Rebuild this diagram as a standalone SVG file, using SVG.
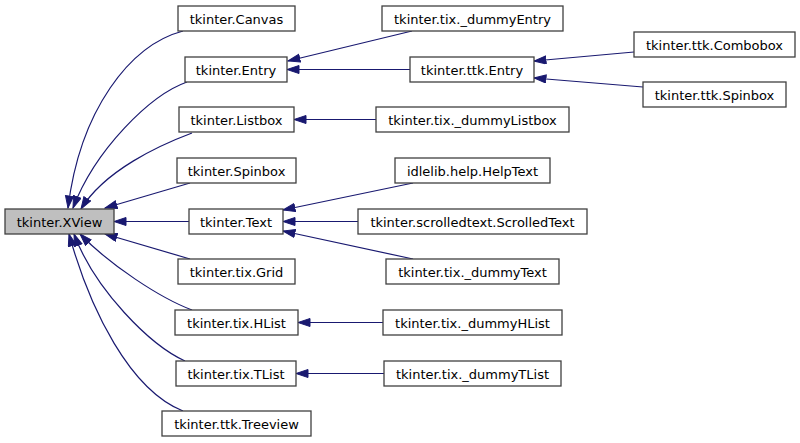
<svg xmlns="http://www.w3.org/2000/svg" width="800" height="443" viewBox="0 0 800 443">
<style>
.n rect{fill:#ffffff;stroke:#404040;stroke-width:1.3}
.n text{font-family:"DejaVu Sans",sans-serif;font-size:13px;fill:#000;text-anchor:middle}
#n_xview rect{fill:#bfbfbf}
.e path{fill:none;stroke:#191970;stroke-width:1.2;marker-end:url(#ah)}
</style>
<defs>
<marker id="ah" markerUnits="userSpaceOnUse" markerWidth="14" markerHeight="10" refX="12.5" refY="4.5" orient="auto">
<path d="M0.5,0.5 L12.5,4.5 L0.5,8.5 z" fill="#191970" stroke="#191970" stroke-width="1"/>
</marker>
</defs>
<rect width="800" height="443" fill="#ffffff"/>
<g class="e" id="edges">
<path d="M183,31 C130,45 80,110 68,208"/>
<path d="M187,82 C150,95 95,150 73,208"/>
<path d="M192,133 C160,145 105,170 81,209"/>
<path d="M190,183 L105,208"/>
<path d="M189,221.5 L114,221.5"/>
<path d="M190,259 L105,234"/>
<path d="M192,310 C160,298 110,265 80,234"/>
<path d="M185,361 C150,345 95,290 74,234"/>
<path d="M183,411 C130,390 90,310 69,234"/>
<path d="M412,31 L288,61"/>
<path d="M410,69.5 L287,69.5"/>
<path d="M634,52 L534,61"/>
<path d="M643,87 L534,78"/>
<path d="M376,119.5 L294,119.5"/>
<path d="M413,183 L283,210"/>
<path d="M358,221.5 L283,221.5"/>
<path d="M413,259 L283,231"/>
<path d="M383,322.5 L298,322.5"/>
<path d="M384,373.5 L296,373.5"/>
</g>
<g class="n" id="n_xview"><rect x="5" y="209" width="109" height="25"/><text x="59.5" y="227">tkinter.XView</text></g>
<g class="n" id="n_canvas"><rect x="178" y="6" width="117" height="25"/><text x="236.5" y="24">tkinter.Canvas</text></g>
<g class="n" id="n_entry"><rect x="185" y="57" width="102" height="25"/><text x="236" y="75">tkinter.Entry</text></g>
<g class="n" id="n_listbox"><rect x="179" y="107" width="115" height="25"/><text x="236.5" y="125">tkinter.Listbox</text></g>
<g class="n" id="n_spinbox"><rect x="177" y="158" width="119" height="25"/><text x="236.5" y="176">tkinter.Spinbox</text></g>
<g class="n" id="n_text"><rect x="189" y="209" width="94" height="25"/><text x="236" y="227">tkinter.Text</text></g>
<g class="n" id="n_grid"><rect x="178" y="259" width="117" height="25"/><text x="236.5" y="277">tkinter.tix.Grid</text></g>
<g class="n" id="n_hlist"><rect x="175" y="310" width="123" height="25"/><text x="236.5" y="328">tkinter.tix.HList</text></g>
<g class="n" id="n_tlist"><rect x="176" y="361" width="120" height="25"/><text x="236" y="379">tkinter.tix.TList</text></g>
<g class="n" id="n_treeview"><rect x="162" y="411" width="149" height="25"/><text x="236.5" y="429">tkinter.ttk.Treeview</text></g>
<g class="n" id="n_dummyentry"><rect x="382" y="6" width="181" height="25"/><text x="472.5" y="24">tkinter.tix._dummyEntry</text></g>
<g class="n" id="n_ttkentry"><rect x="410" y="57" width="124" height="25"/><text x="472" y="75">tkinter.ttk.Entry</text></g>
<g class="n" id="n_combobox"><rect x="634" y="32" width="161" height="25"/><text x="714.5" y="50">tkinter.ttk.Combobox</text></g>
<g class="n" id="n_ttkspinbox"><rect x="643" y="82" width="143" height="25"/><text x="714.5" y="100">tkinter.ttk.Spinbox</text></g>
<g class="n" id="n_dummylistbox"><rect x="376" y="107" width="193" height="25"/><text x="472.5" y="125">tkinter.tix._dummyListbox</text></g>
<g class="n" id="n_helptext"><rect x="395" y="158" width="155" height="25"/><text x="472.5" y="176">idlelib.help.HelpText</text></g>
<g class="n" id="n_scrolledtext"><rect x="358" y="209" width="229" height="25"/><text x="472.5" y="227">tkinter.scrolledtext.ScrolledText</text></g>
<g class="n" id="n_dummytext"><rect x="386" y="259" width="173" height="25"/><text x="472.5" y="277">tkinter.tix._dummyText</text></g>
<g class="n" id="n_dummyhlist"><rect x="383" y="310" width="179" height="25"/><text x="472.5" y="328">tkinter.tix._dummyHList</text></g>
<g class="n" id="n_dummytlist"><rect x="384" y="361" width="177" height="25"/><text x="472.5" y="379">tkinter.tix._dummyTList</text></g>
</svg>
